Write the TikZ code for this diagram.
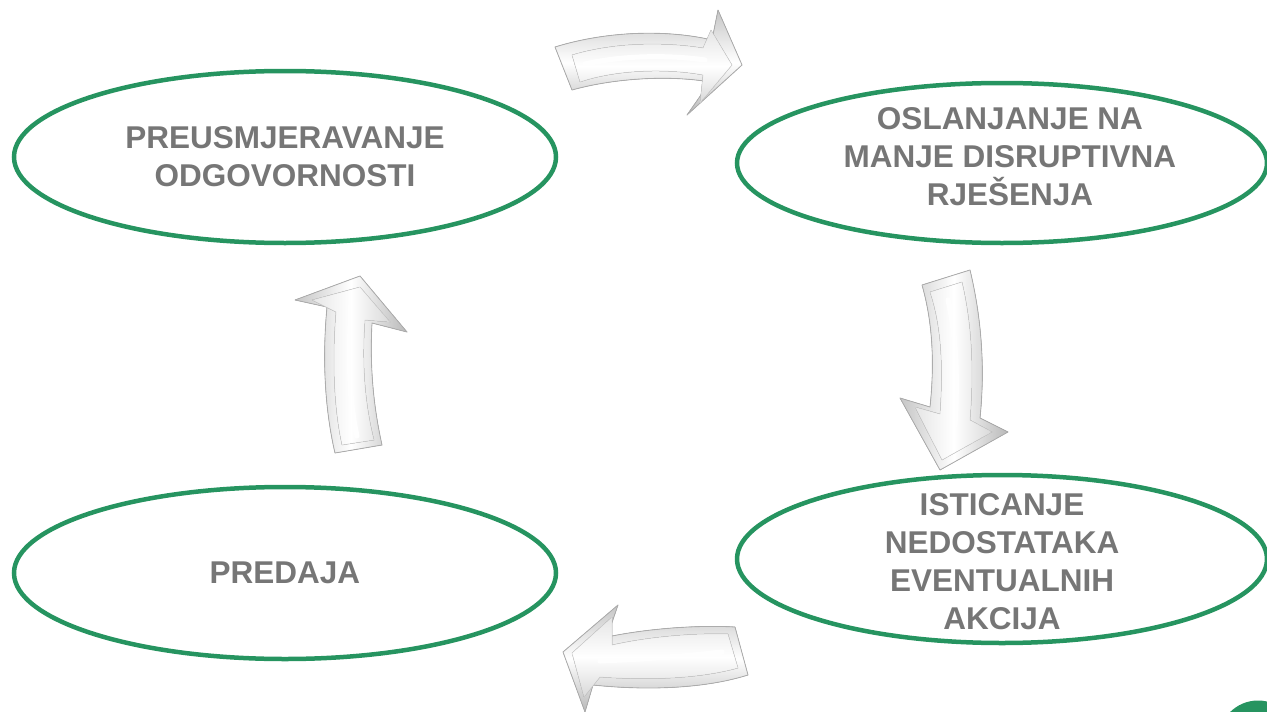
\documentclass[tikz,border=0pt]{standalone}
\usepackage{fontspec}
\setmainfont{Liberation Sans}
\usetikzlibrary{shapes.geometric}
\definecolor{ovalgreen}{RGB}{38,148,96}
\definecolor{labelgray}{RGB}{118,118,118}
\begin{document}
\begin{tikzpicture}[x=1pt,y=-1pt,
  oval/.style={draw=ovalgreen,line width=4.5pt,ellipse,inner sep=0pt},
  lbl/.style={text=labelgray,font=\bfseries\fontsize{31.5}{38}\selectfont,align=center},
  harrow/.style={top color=gray!45,bottom color=gray!55,middle color=white,draw=gray!65,line width=0.8pt,line join=round},
  varrow/.style={left color=gray!45,right color=gray!55,middle color=white,draw=gray!65,line width=0.8pt,line join=round},
  hface/.style={top color=gray!20,bottom color=gray!30,middle color=white,draw=gray!35,line width=0.5pt,line join=round},
  vface/.style={left color=gray!20,right color=gray!30,middle color=white,draw=gray!35,line width=0.5pt,line join=round},
  shine/.style={white,line width=5pt,line cap=round,opacity=0.9}]
\useasboundingbox (0,0) rectangle (1267,712);
\fill[ovalgreen] (1258,740) circle (39.5);
\node[oval,minimum width=542pt,minimum height=172pt] (shift) at (285,157) {};
\node[oval,minimum width=530pt,minimum height=160pt] (relying) at (1002,163) {};
\node[oval,minimum width=530pt,minimum height=168pt] (flaws) at (1002,559) {};
\node[oval,minimum width=542pt,minimum height=172pt] (giveup) at (285,573) {};
\node[lbl] at (shift) {PREUSMJERAVANJE\\ODGOVORNOSTI};
\node[lbl] at ([xshift=8pt,yshift=6pt]relying) {OSLANJANJE NA\\MANJE DISRUPTIVNA\\RJEŠENJA};
\node[lbl] at ([yshift=-3pt]flaws) {ISTICANJE\\NEDOSTATAKA\\EVENTUALNIH\\AKCIJA};
\node[lbl] at (giveup) {PREDAJA};
\filldraw[harrow] (555,47) .. controls (610,30) and (670,30) .. (712,40) -- (718,10) -- (742,65)
  -- (687,115) -- (710,82) .. controls (670,75) and (615,78) .. (572,90) -- cycle;
\filldraw[hface] (572,55) .. controls (615,42) and (665,42) .. (703,48) -- (711,30) -- (732,65)
  -- (700,103) -- (703,75) .. controls (665,68) and (615,70) .. (580,82) -- cycle;
\draw[shine] (585,64) .. controls (625,55) and (670,55) .. (705,60);
\filldraw[varrow] (922,285) -- (970,270) .. controls (982,320) and (985,370) .. (980,418)
  -- (1008,432) -- (940,470) -- (900,398) -- (930,407) .. controls (935,360) and (932,320) .. cycle;
\filldraw[vface] (930,292) -- (962,282) .. controls (972,325) and (974,370) .. (970,420)
  -- (992,432) -- (942,460) -- (915,407) -- (940,414) .. controls (944,360) and (940,322) .. cycle;
\draw[shine] (948,300) .. controls (956,335) and (958,375) .. (955,425);
\filldraw[harrow] (735,627) -- (748,675) .. controls (700,690) and (640,690) .. (593,685)
  -- (585,712) -- (563,652) -- (618,605) -- (607,637) .. controls (650,628) and (700,625) .. cycle;
\filldraw[hface] (728,634) -- (738,668) .. controls (695,680) and (640,680) .. (600,677)
  -- (584,697) -- (572,653) -- (612,617) -- (612,645) .. controls (652,636) and (698,633) .. cycle;
\draw[shine] (722,652) .. controls (688,656) and (648,659) .. (600,661);
\filldraw[varrow] (335,453) -- (382,445) .. controls (372,400) and (370,360) .. (372,323)
  -- (407,332) -- (360,276) -- (295,300) -- (327,307) .. controls (322,360) and (325,410) .. cycle;
\filldraw[vface] (342,445) -- (374,440) .. controls (364,400) and (362,360) .. (365,320)
  -- (390,322) -- (360,287) -- (312,300) -- (336,312) .. controls (332,362) and (334,408) .. cycle;
\draw[shine] (357,436) .. controls (349,400) and (348,360) .. (351,305);
\end{tikzpicture}
\end{document}
